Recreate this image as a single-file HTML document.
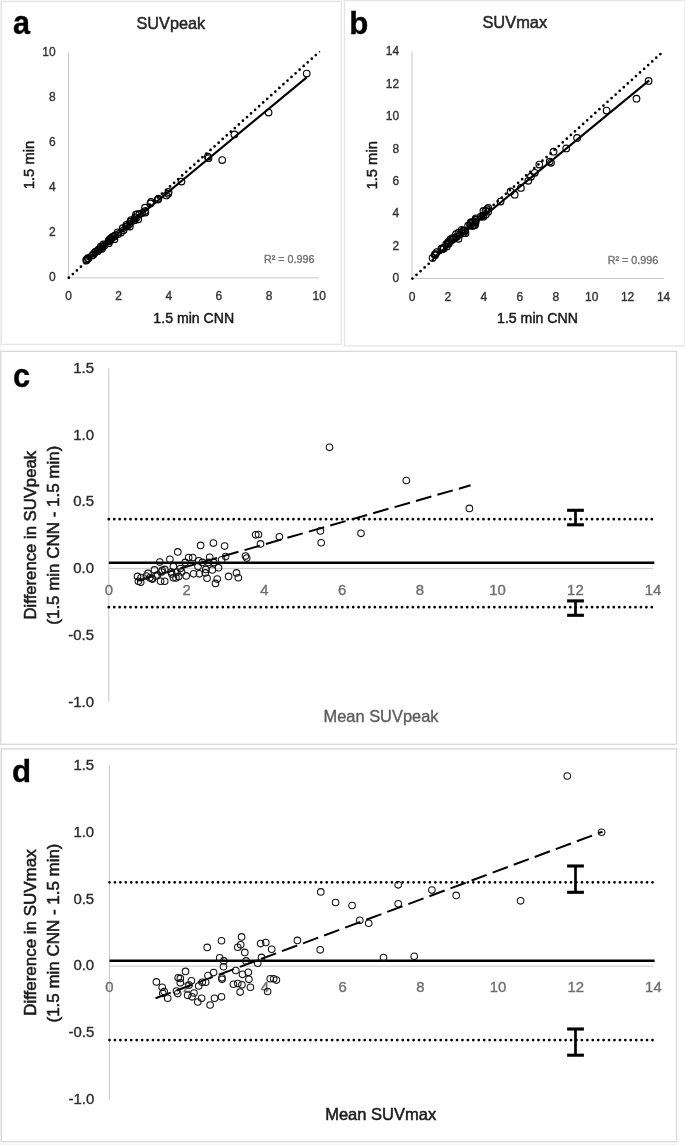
<!DOCTYPE html>
<html><head><meta charset="utf-8"><title>Figure</title>
<style>
html,body{margin:0;padding:0;background:#fff;}
body{width:685px;height:1145px;overflow:hidden;font-family:"Liberation Sans",sans-serif;}
svg{display:block;will-change:transform;}
svg text{font-family:"Liberation Sans",sans-serif;}
</style></head>
<body>
<svg width="685" height="1145" viewBox="0 0 685 1145">
<defs><filter id="soft" x="0" y="0" width="100%" height="100%" filterUnits="userSpaceOnUse" color-interpolation-filters="sRGB"><feGaussianBlur stdDeviation="0.4"/></filter></defs>
<rect width="685" height="1145" fill="#fff"/>
<g filter="url(#soft)">
<rect width="685" height="1145" fill="#fff"/>
<rect x="0" y="0" width="1.2" height="1145" fill="#f3f3f3"/><rect x="0" y="0" width="343" height="1.2" fill="#f6f6f6"/><rect x="0" y="1143.8" width="677" height="1.2" fill="#f3f3f3"/>
<rect x="1.4" y="1.6" width="339.9" height="342.8" fill="#fff" stroke="#e6e6e6" stroke-width="1.3"/>
<rect x="344.5" y="0.5" width="340.6" height="345.4" fill="#fff" stroke="#e6e6e6" stroke-width="1.4"/>
<rect x="0.8" y="351.3" width="675.8" height="393.0" fill="#fff" stroke="#d9d9d9" stroke-width="1.3"/>
<rect x="1.4" y="748.9" width="675.1" height="392.8" fill="#fff" stroke="#dcdcdc" stroke-width="1.5"/>
<line x1="68.5" y1="52.4" x2="68.5" y2="277.9" stroke="#c8c8c8" stroke-width="1"/>
<line x1="68.5" y1="277.9" x2="319.2" y2="277.9" stroke="#c8c8c8" stroke-width="1"/>
<text x="55.6" y="281.4" font-size="12" text-anchor="end" fill="#333" font-weight="normal" stroke="#333" stroke-width="0.35">0</text>
<text x="68.5" y="300.2" font-size="12" text-anchor="middle" fill="#333" font-weight="normal" stroke="#333" stroke-width="0.35">0</text>
<text x="55.6" y="236.2" font-size="12" text-anchor="end" fill="#333" font-weight="normal" stroke="#333" stroke-width="0.35">2</text>
<text x="118.6" y="300.2" font-size="12" text-anchor="middle" fill="#333" font-weight="normal" stroke="#333" stroke-width="0.35">2</text>
<text x="55.6" y="191.1" font-size="12" text-anchor="end" fill="#333" font-weight="normal" stroke="#333" stroke-width="0.35">4</text>
<text x="168.8" y="300.2" font-size="12" text-anchor="middle" fill="#333" font-weight="normal" stroke="#333" stroke-width="0.35">4</text>
<text x="55.6" y="145.9" font-size="12" text-anchor="end" fill="#333" font-weight="normal" stroke="#333" stroke-width="0.35">6</text>
<text x="218.9" y="300.2" font-size="12" text-anchor="middle" fill="#333" font-weight="normal" stroke="#333" stroke-width="0.35">6</text>
<text x="55.6" y="100.8" font-size="12" text-anchor="end" fill="#333" font-weight="normal" stroke="#333" stroke-width="0.35">8</text>
<text x="269.1" y="300.2" font-size="12" text-anchor="middle" fill="#333" font-weight="normal" stroke="#333" stroke-width="0.35">8</text>
<text x="55.6" y="55.6" font-size="12" text-anchor="end" fill="#333" font-weight="normal" stroke="#333" stroke-width="0.35">10</text>
<text x="319.2" y="300.2" font-size="12" text-anchor="middle" fill="#333" font-weight="normal" stroke="#333" stroke-width="0.35">10</text>
<line x1="68.8" y1="277.7" x2="319.3" y2="51.9" stroke="#000" stroke-width="2.75" stroke-dasharray="0 5.452" stroke-linecap="round"/>
<circle cx="319.5" cy="51.7" r="0.8" fill="#000"/>
<line x1="86.6" y1="259.6" x2="306.7" y2="77.4" stroke="#000" stroke-width="2.1"/>
<g fill="none" stroke="#000" stroke-width="1.15">
<circle cx="129.9" cy="226.5" r="3.3"/>
<circle cx="138.3" cy="219.3" r="3.3"/>
<circle cx="145.3" cy="212.5" r="3.3"/>
<circle cx="114.5" cy="239.2" r="3.3"/>
<circle cx="108.8" cy="243.2" r="3.3"/>
<circle cx="102.0" cy="248.8" r="3.3"/>
<circle cx="121.0" cy="232.4" r="3.3"/>
<circle cx="123.6" cy="230.1" r="3.3"/>
<circle cx="134.6" cy="220.2" r="3.3"/>
<circle cx="144.9" cy="211.1" r="3.3"/>
<circle cx="142.0" cy="213.1" r="3.3"/>
<circle cx="118.3" cy="234.0" r="3.3"/>
<circle cx="127.3" cy="226.3" r="3.3"/>
<circle cx="129.4" cy="224.1" r="3.3"/>
<circle cx="133.4" cy="220.5" r="3.3"/>
<circle cx="136.7" cy="217.5" r="3.3"/>
<circle cx="110.3" cy="240.6" r="3.3"/>
<circle cx="114.7" cy="236.3" r="3.3"/>
<circle cx="126.2" cy="226.3" r="3.3"/>
<circle cx="131.0" cy="221.5" r="3.3"/>
<circle cx="135.1" cy="217.7" r="3.3"/>
<circle cx="139.3" cy="214.2" r="3.3"/>
<circle cx="104.5" cy="245.4" r="3.3"/>
<circle cx="97.8" cy="251.2" r="3.3"/>
<circle cx="102.1" cy="247.0" r="3.3"/>
<circle cx="108.4" cy="241.4" r="3.3"/>
<circle cx="112.1" cy="238.0" r="3.3"/>
<circle cx="93.3" cy="254.7" r="3.3"/>
<circle cx="98.2" cy="249.9" r="3.3"/>
<circle cx="86.3" cy="260.6" r="3.3"/>
<circle cx="88.4" cy="258.4" r="3.3"/>
<circle cx="94.1" cy="253.3" r="3.3"/>
<circle cx="95.6" cy="251.7" r="3.3"/>
<circle cx="86.4" cy="259.6" r="3.3"/>
<circle cx="87.8" cy="258.2" r="3.3"/>
<circle cx="100.7" cy="246.7" r="3.3"/>
<circle cx="103.3" cy="244.4" r="3.3"/>
<circle cx="109.3" cy="239.6" r="3.3"/>
<circle cx="112.8" cy="236.6" r="3.3"/>
<circle cx="117.7" cy="232.3" r="3.3"/>
<circle cx="122.7" cy="228.2" r="3.3"/>
<circle cx="126.4" cy="224.8" r="3.3"/>
<circle cx="130.3" cy="221.5" r="3.3"/>
<circle cx="131.0" cy="220.0" r="3.3"/>
<circle cx="137.4" cy="214.0" r="3.3"/>
<circle cx="135.9" cy="214.7" r="3.3"/>
<circle cx="145.0" cy="207.6" r="3.3"/>
<circle cx="150.4" cy="203.4" r="3.3"/>
<circle cx="151.1" cy="201.9" r="3.3"/>
<circle cx="222.2" cy="160.0" r="3.3"/>
<circle cx="268.6" cy="112.6" r="3.3"/>
<circle cx="306.7" cy="73.6" r="3.3"/>
<circle cx="234.4" cy="134.4" r="3.3"/>
<circle cx="208.5" cy="158.2" r="3.3"/>
<circle cx="207.9" cy="156.7" r="3.3"/>
<circle cx="181.5" cy="181.5" r="3.3"/>
<circle cx="166.4" cy="195.4" r="3.3"/>
<circle cx="168.2" cy="193.8" r="3.3"/>
<circle cx="168.6" cy="191.9" r="3.3"/>
<circle cx="157.8" cy="199.6" r="3.3"/>
<circle cx="158.4" cy="198.7" r="3.3"/>
<circle cx="102.8" cy="246.7" r="3.3"/>
<circle cx="99.4" cy="249.0" r="3.3"/>
<circle cx="95.4" cy="252.0" r="3.3"/>
<circle cx="115.1" cy="235.3" r="3.3"/>
<circle cx="108.7" cy="240.8" r="3.3"/>
<circle cx="110.9" cy="238.1" r="3.3"/>
<circle cx="92.0" cy="255.5" r="3.3"/>
</g>
<text x="170.8" y="29.3" font-size="17" text-anchor="middle" fill="#262626" font-weight="normal" stroke="#262626" stroke-width="0.5" textLength="68.6" lengthAdjust="spacingAndGlyphs">SUVpeak</text>
<text x="193.8" y="323.0" font-size="15.3" text-anchor="middle" fill="#1a1a1a" font-weight="normal" stroke="#1a1a1a" stroke-width="0.5" textLength="80.9" lengthAdjust="spacingAndGlyphs">1.5 min CNN</text>
<text x="33.6" y="165.0" font-size="15.3" text-anchor="middle" fill="#1a1a1a" font-weight="normal" stroke="#1a1a1a" stroke-width="0.5" textLength="48.4" lengthAdjust="spacingAndGlyphs" transform="rotate(-90 33.6 165.0)">1.5 min</text>
<text x="289.2" y="262.8" font-size="11.5" text-anchor="middle" fill="#747474" font-weight="normal" stroke="#747474" stroke-width="0.4" textLength="50.6" lengthAdjust="spacingAndGlyphs">R² = 0.996</text>
<text x="12.9" y="33.7" font-size="33.4" text-anchor="start" fill="#000" font-weight="bold" stroke="#000" stroke-width="0.35" textLength="17.0" lengthAdjust="spacingAndGlyphs">a</text>
<line x1="412.0" y1="51.4" x2="412.0" y2="278.5" stroke="#c8c8c8" stroke-width="1"/>
<line x1="412.0" y1="278.5" x2="663.6" y2="278.5" stroke="#c8c8c8" stroke-width="1"/>
<text x="399.2" y="282.4" font-size="12" text-anchor="end" fill="#333" font-weight="normal" stroke="#333" stroke-width="0.35">0</text>
<text x="412.0" y="300.6" font-size="12" text-anchor="middle" fill="#333" font-weight="normal" stroke="#333" stroke-width="0.35">0</text>
<text x="399.2" y="249.9" font-size="12" text-anchor="end" fill="#333" font-weight="normal" stroke="#333" stroke-width="0.35">2</text>
<text x="447.9" y="300.6" font-size="12" text-anchor="middle" fill="#333" font-weight="normal" stroke="#333" stroke-width="0.35">2</text>
<text x="399.2" y="217.4" font-size="12" text-anchor="end" fill="#333" font-weight="normal" stroke="#333" stroke-width="0.35">4</text>
<text x="483.9" y="300.6" font-size="12" text-anchor="middle" fill="#333" font-weight="normal" stroke="#333" stroke-width="0.35">4</text>
<text x="399.2" y="185.0" font-size="12" text-anchor="end" fill="#333" font-weight="normal" stroke="#333" stroke-width="0.35">6</text>
<text x="519.8" y="300.6" font-size="12" text-anchor="middle" fill="#333" font-weight="normal" stroke="#333" stroke-width="0.35">6</text>
<text x="399.2" y="152.5" font-size="12" text-anchor="end" fill="#333" font-weight="normal" stroke="#333" stroke-width="0.35">8</text>
<text x="555.8" y="300.6" font-size="12" text-anchor="middle" fill="#333" font-weight="normal" stroke="#333" stroke-width="0.35">8</text>
<text x="399.2" y="120.0" font-size="12" text-anchor="end" fill="#333" font-weight="normal" stroke="#333" stroke-width="0.35">10</text>
<text x="591.7" y="300.6" font-size="12" text-anchor="middle" fill="#333" font-weight="normal" stroke="#333" stroke-width="0.35">10</text>
<text x="399.2" y="87.5" font-size="12" text-anchor="end" fill="#333" font-weight="normal" stroke="#333" stroke-width="0.35">12</text>
<text x="627.6" y="300.6" font-size="12" text-anchor="middle" fill="#333" font-weight="normal" stroke="#333" stroke-width="0.35">12</text>
<text x="399.2" y="55.0" font-size="12" text-anchor="end" fill="#333" font-weight="normal" stroke="#333" stroke-width="0.35">14</text>
<text x="663.6" y="300.6" font-size="12" text-anchor="middle" fill="#333" font-weight="normal" stroke="#333" stroke-width="0.35">14</text>
<line x1="412.4" y1="278.5" x2="663.6" y2="51.1" stroke="#000" stroke-width="2.75" stroke-dasharray="0 5.483" stroke-linecap="round"/>
<line x1="433.6" y1="257.6" x2="649.2" y2="80.4" stroke="#000" stroke-width="2.1"/>
<g fill="none" stroke="#000" stroke-width="1.15">
<circle cx="475.1" cy="225.1" r="3.3"/>
<circle cx="465.5" cy="233.2" r="3.3"/>
<circle cx="500.6" cy="201.5" r="3.3"/>
<circle cx="483.4" cy="216.7" r="3.3"/>
<circle cx="485.9" cy="214.6" r="3.3"/>
<circle cx="474.1" cy="225.0" r="3.3"/>
<circle cx="472.6" cy="226.0" r="3.3"/>
<circle cx="458.5" cy="238.8" r="3.3"/>
<circle cx="488.2" cy="211.7" r="3.3"/>
<circle cx="475.5" cy="222.8" r="3.3"/>
<circle cx="482.9" cy="215.5" r="3.3"/>
<circle cx="463.5" cy="233.0" r="3.3"/>
<circle cx="465.2" cy="231.0" r="3.3"/>
<circle cx="475.5" cy="221.8" r="3.3"/>
<circle cx="480.8" cy="216.7" r="3.3"/>
<circle cx="464.7" cy="230.8" r="3.3"/>
<circle cx="446.8" cy="246.4" r="3.3"/>
<circle cx="470.1" cy="225.4" r="3.3"/>
<circle cx="459.7" cy="234.6" r="3.3"/>
<circle cx="475.8" cy="220.1" r="3.3"/>
<circle cx="473.0" cy="222.4" r="3.3"/>
<circle cx="456.9" cy="236.8" r="3.3"/>
<circle cx="443.0" cy="249.1" r="3.3"/>
<circle cx="443.9" cy="248.2" r="3.3"/>
<circle cx="463.3" cy="230.8" r="3.3"/>
<circle cx="463.2" cy="230.7" r="3.3"/>
<circle cx="448.9" cy="243.4" r="3.3"/>
<circle cx="475.6" cy="219.4" r="3.3"/>
<circle cx="485.5" cy="210.6" r="3.3"/>
<circle cx="487.1" cy="209.1" r="3.3"/>
<circle cx="488.3" cy="207.9" r="3.3"/>
<circle cx="432.6" cy="257.9" r="3.3"/>
<circle cx="443.6" cy="247.9" r="3.3"/>
<circle cx="453.8" cy="238.8" r="3.3"/>
<circle cx="455.4" cy="237.3" r="3.3"/>
<circle cx="468.1" cy="225.6" r="3.3"/>
<circle cx="470.2" cy="223.8" r="3.3"/>
<circle cx="472.0" cy="222.0" r="3.3"/>
<circle cx="447.5" cy="244.1" r="3.3"/>
<circle cx="451.9" cy="240.0" r="3.3"/>
<circle cx="435.0" cy="255.2" r="3.3"/>
<circle cx="475.8" cy="218.3" r="3.3"/>
<circle cx="441.3" cy="249.0" r="3.3"/>
<circle cx="435.6" cy="254.1" r="3.3"/>
<circle cx="434.8" cy="254.6" r="3.3"/>
<circle cx="441.7" cy="248.3" r="3.3"/>
<circle cx="449.3" cy="241.5" r="3.3"/>
<circle cx="470.7" cy="222.3" r="3.3"/>
<circle cx="483.4" cy="210.9" r="3.3"/>
<circle cx="446.2" cy="244.1" r="3.3"/>
<circle cx="448.1" cy="242.2" r="3.3"/>
<circle cx="436.8" cy="252.2" r="3.3"/>
<circle cx="452.4" cy="238.1" r="3.3"/>
<circle cx="458.4" cy="232.7" r="3.3"/>
<circle cx="461.7" cy="229.8" r="3.3"/>
<circle cx="450.4" cy="239.4" r="3.3"/>
<circle cx="455.9" cy="234.1" r="3.3"/>
<circle cx="636.5" cy="98.7" r="3.3"/>
<circle cx="648.6" cy="80.9" r="3.3"/>
<circle cx="606.6" cy="110.6" r="3.3"/>
<circle cx="577.1" cy="137.9" r="3.3"/>
<circle cx="566.2" cy="148.4" r="3.3"/>
<circle cx="551.0" cy="162.8" r="3.3"/>
<circle cx="549.7" cy="161.6" r="3.3"/>
<circle cx="528.3" cy="180.8" r="3.3"/>
<circle cx="520.9" cy="187.9" r="3.3"/>
<circle cx="514.7" cy="194.7" r="3.3"/>
<circle cx="530.9" cy="176.7" r="3.3"/>
<circle cx="534.8" cy="172.8" r="3.3"/>
<circle cx="510.6" cy="191.4" r="3.3"/>
<circle cx="539.3" cy="164.5" r="3.3"/>
<circle cx="553.6" cy="151.7" r="3.3"/>
</g>
<text x="514.8" y="28.4" font-size="17" text-anchor="middle" fill="#262626" font-weight="normal" stroke="#262626" stroke-width="0.5" textLength="64.8" lengthAdjust="spacingAndGlyphs">SUVmax</text>
<text x="537.5" y="323.3" font-size="15.3" text-anchor="middle" fill="#1a1a1a" font-weight="normal" stroke="#1a1a1a" stroke-width="0.5" textLength="80.9" lengthAdjust="spacingAndGlyphs">1.5 min CNN</text>
<text x="377.2" y="165.3" font-size="15.3" text-anchor="middle" fill="#1a1a1a" font-weight="normal" stroke="#1a1a1a" stroke-width="0.5" textLength="48.4" lengthAdjust="spacingAndGlyphs" transform="rotate(-90 377.2 165.3)">1.5 min</text>
<text x="633.0" y="264.2" font-size="11.5" text-anchor="middle" fill="#747474" font-weight="normal" stroke="#747474" stroke-width="0.4" textLength="50.6" lengthAdjust="spacingAndGlyphs">R² = 0.996</text>
<text x="349.2" y="33.6" font-size="30.5" text-anchor="start" fill="#000" font-weight="bold" stroke="#000" stroke-width="0.35" textLength="19.1" lengthAdjust="spacingAndGlyphs">b</text>
<line x1="108.8" y1="368.2" x2="108.8" y2="701.8" stroke="#c8c8c8" stroke-width="1"/>
<line x1="108.8" y1="568.4" x2="653.1" y2="568.4" stroke="#c8c8c8" stroke-width="1"/>
<text x="94.0" y="372.8" font-size="14.5" text-anchor="end" fill="#2b2b2b" font-weight="normal" stroke="#2b2b2b" stroke-width="0.35" textLength="20.8" lengthAdjust="spacingAndGlyphs">1.5</text>
<text x="94.0" y="439.5" font-size="14.5" text-anchor="end" fill="#2b2b2b" font-weight="normal" stroke="#2b2b2b" stroke-width="0.35" textLength="20.8" lengthAdjust="spacingAndGlyphs">1.0</text>
<text x="94.0" y="505.9" font-size="14.5" text-anchor="end" fill="#2b2b2b" font-weight="normal" stroke="#2b2b2b" stroke-width="0.35" textLength="20.8" lengthAdjust="spacingAndGlyphs">0.5</text>
<text x="94.0" y="573.0" font-size="14.5" text-anchor="end" fill="#2b2b2b" font-weight="normal" stroke="#2b2b2b" stroke-width="0.35" textLength="20.8" lengthAdjust="spacingAndGlyphs">0.0</text>
<text x="94.0" y="640.2" font-size="14.5" text-anchor="end" fill="#2b2b2b" font-weight="normal" stroke="#2b2b2b" stroke-width="0.35" textLength="25.7" lengthAdjust="spacingAndGlyphs">-0.5</text>
<text x="94.0" y="707.3" font-size="14.5" text-anchor="end" fill="#2b2b2b" font-weight="normal" stroke="#2b2b2b" stroke-width="0.35" textLength="25.7" lengthAdjust="spacingAndGlyphs">-1.0</text>
<text x="108.8" y="594.9" font-size="14.5" text-anchor="middle" fill="#6e6e6e" font-weight="normal" stroke="#6e6e6e" stroke-width="0.35" textLength="8.3" lengthAdjust="spacingAndGlyphs">0</text>
<text x="186.6" y="594.9" font-size="14.5" text-anchor="middle" fill="#6e6e6e" font-weight="normal" stroke="#6e6e6e" stroke-width="0.35" textLength="8.3" lengthAdjust="spacingAndGlyphs">2</text>
<text x="264.3" y="594.9" font-size="14.5" text-anchor="middle" fill="#6e6e6e" font-weight="normal" stroke="#6e6e6e" stroke-width="0.35" textLength="8.3" lengthAdjust="spacingAndGlyphs">4</text>
<text x="342.1" y="594.9" font-size="14.5" text-anchor="middle" fill="#6e6e6e" font-weight="normal" stroke="#6e6e6e" stroke-width="0.35" textLength="8.3" lengthAdjust="spacingAndGlyphs">6</text>
<text x="419.8" y="594.9" font-size="14.5" text-anchor="middle" fill="#6e6e6e" font-weight="normal" stroke="#6e6e6e" stroke-width="0.35" textLength="8.3" lengthAdjust="spacingAndGlyphs">8</text>
<text x="497.6" y="594.9" font-size="14.5" text-anchor="middle" fill="#6e6e6e" font-weight="normal" stroke="#6e6e6e" stroke-width="0.35" textLength="16.6" lengthAdjust="spacingAndGlyphs">10</text>
<text x="575.4" y="594.9" font-size="14.5" text-anchor="middle" fill="#6e6e6e" font-weight="normal" stroke="#6e6e6e" stroke-width="0.35" textLength="16.6" lengthAdjust="spacingAndGlyphs">12</text>
<text x="653.1" y="594.9" font-size="14.5" text-anchor="middle" fill="#6e6e6e" font-weight="normal" stroke="#6e6e6e" stroke-width="0.35" textLength="16.6" lengthAdjust="spacingAndGlyphs">14</text>
<line x1="108.8" y1="519.2" x2="653.1" y2="519.2" stroke="#000" stroke-width="2.75" stroke-dasharray="0 5.43" stroke-linecap="round"/>
<line x1="108.8" y1="607.2" x2="653.1" y2="607.2" stroke="#000" stroke-width="2.75" stroke-dasharray="0 5.43" stroke-linecap="round"/>
<line x1="108.8" y1="562.8" x2="654.3" y2="562.8" stroke="#000" stroke-width="2.5"/>
<line x1="137.3" y1="580.8" x2="470.6" y2="485.3" stroke="#000" stroke-width="2.0" stroke-dasharray="16 6.3"/>
<g fill="none" stroke="#111" stroke-width="1.05">
<circle cx="200.6" cy="545.4" r="3.3"/>
<circle cx="213.4" cy="543.1" r="3.3"/>
<circle cx="224.6" cy="546.1" r="3.3"/>
<circle cx="177.8" cy="551.9" r="3.3"/>
<circle cx="169.9" cy="559.3" r="3.3"/>
<circle cx="159.8" cy="562.1" r="3.3"/>
<circle cx="188.7" cy="557.5" r="3.3"/>
<circle cx="192.7" cy="557.5" r="3.3"/>
<circle cx="209.7" cy="557.2" r="3.3"/>
<circle cx="225.6" cy="556.6" r="3.3"/>
<circle cx="221.6" cy="559.8" r="3.3"/>
<circle cx="185.2" cy="562.4" r="3.3"/>
<circle cx="198.8" cy="560.7" r="3.3"/>
<circle cx="202.3" cy="562.4" r="3.3"/>
<circle cx="208.5" cy="562.4" r="3.3"/>
<circle cx="213.7" cy="562.4" r="3.3"/>
<circle cx="173.4" cy="566.4" r="3.3"/>
<circle cx="180.4" cy="568.5" r="3.3"/>
<circle cx="198.0" cy="566.4" r="3.3"/>
<circle cx="205.8" cy="569.4" r="3.3"/>
<circle cx="212.3" cy="569.9" r="3.3"/>
<circle cx="218.5" cy="567.7" r="3.3"/>
<circle cx="164.7" cy="569.4" r="3.3"/>
<circle cx="154.5" cy="569.9" r="3.3"/>
<circle cx="161.5" cy="572.0" r="3.3"/>
<circle cx="171.2" cy="572.0" r="3.3"/>
<circle cx="176.9" cy="572.0" r="3.3"/>
<circle cx="148.0" cy="573.4" r="3.3"/>
<circle cx="155.9" cy="575.9" r="3.3"/>
<circle cx="137.5" cy="576.4" r="3.3"/>
<circle cx="141.0" cy="577.7" r="3.3"/>
<circle cx="149.8" cy="577.7" r="3.3"/>
<circle cx="152.4" cy="579.1" r="3.3"/>
<circle cx="138.4" cy="581.2" r="3.3"/>
<circle cx="140.7" cy="582.2" r="3.3"/>
<circle cx="160.6" cy="581.2" r="3.3"/>
<circle cx="164.7" cy="581.2" r="3.3"/>
<circle cx="173.4" cy="577.7" r="3.3"/>
<circle cx="178.7" cy="576.4" r="3.3"/>
<circle cx="186.2" cy="575.9" r="3.3"/>
<circle cx="193.6" cy="573.8" r="3.3"/>
<circle cx="199.4" cy="573.8" r="3.3"/>
<circle cx="205.3" cy="572.9" r="3.3"/>
<circle cx="207.1" cy="578.2" r="3.3"/>
<circle cx="217.2" cy="579.1" r="3.3"/>
<circle cx="215.5" cy="583.4" r="3.3"/>
<circle cx="228.6" cy="576.4" r="3.3"/>
<circle cx="236.5" cy="572.9" r="3.3"/>
<circle cx="238.3" cy="577.7" r="3.3"/>
<circle cx="329.5" cy="447.3" r="3.3"/>
<circle cx="406.3" cy="480.5" r="3.3"/>
<circle cx="469.4" cy="508.4" r="3.3"/>
<circle cx="361.0" cy="533.3" r="3.3"/>
<circle cx="320.4" cy="530.9" r="3.3"/>
<circle cx="321.2" cy="542.7" r="3.3"/>
<circle cx="279.4" cy="536.8" r="3.3"/>
<circle cx="255.7" cy="534.8" r="3.3"/>
<circle cx="258.5" cy="534.5" r="3.3"/>
<circle cx="260.5" cy="543.9" r="3.3"/>
<circle cx="245.5" cy="556.1" r="3.3"/>
<circle cx="246.7" cy="558.1" r="3.3"/>
<circle cx="162.2" cy="570.3" r="3.3"/>
<circle cx="157.6" cy="574.9" r="3.3"/>
<circle cx="152.0" cy="578.5" r="3.3"/>
<circle cx="181.6" cy="571.9" r="3.3"/>
<circle cx="171.9" cy="573.9" r="3.3"/>
<circle cx="176.0" cy="578.0" r="3.3"/>
<circle cx="146.3" cy="576.0" r="3.3"/>
</g>
<line x1="575.5" y1="510.3" x2="575.5" y2="524.8" stroke="#000" stroke-width="2.7"/>
<line x1="567.1" y1="510.3" x2="583.9" y2="510.3" stroke="#000" stroke-width="3.1"/>
<line x1="567.1" y1="524.8" x2="583.9" y2="524.8" stroke="#000" stroke-width="3.1"/>
<line x1="575.5" y1="600.9" x2="575.5" y2="615.3" stroke="#000" stroke-width="2.7"/>
<line x1="567.1" y1="600.9" x2="583.9" y2="600.9" stroke="#000" stroke-width="3.1"/>
<line x1="567.1" y1="615.3" x2="583.9" y2="615.3" stroke="#000" stroke-width="3.1"/>
<text x="36.2" y="535.2" font-size="16.5" text-anchor="middle" fill="#1a1a1a" font-weight="normal" stroke="#1a1a1a" stroke-width="0.55" textLength="168.5" lengthAdjust="spacingAndGlyphs" transform="rotate(-90 36.2 535.2)">Difference in SUVpeak</text>
<text x="59.2" y="535.2" font-size="16.5" text-anchor="middle" fill="#1a1a1a" font-weight="normal" stroke="#1a1a1a" stroke-width="0.55" textLength="179.0" lengthAdjust="spacingAndGlyphs" transform="rotate(-90 59.2 535.2)">(1.5 min CNN - 1.5 min)</text>
<text x="381.0" y="722.0" font-size="16.5" text-anchor="middle" fill="#5c5c5c" font-weight="normal" stroke="#5c5c5c" stroke-width="0.35" textLength="115.0" lengthAdjust="spacingAndGlyphs">Mean SUVpeak</text>
<text x="12.9" y="387.0" font-size="33" text-anchor="start" fill="#000" font-weight="bold" stroke="#000" stroke-width="0.35" textLength="17.1" lengthAdjust="spacingAndGlyphs">c</text>
<line x1="109.5" y1="765.8" x2="109.5" y2="1099.8" stroke="#c8c8c8" stroke-width="1"/>
<line x1="109.5" y1="966.2" x2="653.4" y2="966.2" stroke="#c8c8c8" stroke-width="1"/>
<text x="94.2" y="770.0" font-size="14.5" text-anchor="end" fill="#2b2b2b" font-weight="normal" stroke="#2b2b2b" stroke-width="0.35" textLength="20.8" lengthAdjust="spacingAndGlyphs">1.5</text>
<text x="94.2" y="836.8" font-size="14.5" text-anchor="end" fill="#2b2b2b" font-weight="normal" stroke="#2b2b2b" stroke-width="0.35" textLength="20.8" lengthAdjust="spacingAndGlyphs">1.0</text>
<text x="94.2" y="903.6" font-size="14.5" text-anchor="end" fill="#2b2b2b" font-weight="normal" stroke="#2b2b2b" stroke-width="0.35" textLength="20.8" lengthAdjust="spacingAndGlyphs">0.5</text>
<text x="94.2" y="970.4" font-size="14.5" text-anchor="end" fill="#2b2b2b" font-weight="normal" stroke="#2b2b2b" stroke-width="0.35" textLength="20.8" lengthAdjust="spacingAndGlyphs">0.0</text>
<text x="94.2" y="1037.2" font-size="14.5" text-anchor="end" fill="#2b2b2b" font-weight="normal" stroke="#2b2b2b" stroke-width="0.35" textLength="25.7" lengthAdjust="spacingAndGlyphs">-0.5</text>
<text x="94.2" y="1104.0" font-size="14.5" text-anchor="end" fill="#2b2b2b" font-weight="normal" stroke="#2b2b2b" stroke-width="0.35" textLength="25.7" lengthAdjust="spacingAndGlyphs">-1.0</text>
<text x="109.5" y="991.9" font-size="14.5" text-anchor="middle" fill="#6e6e6e" font-weight="normal" stroke="#6e6e6e" stroke-width="0.35" textLength="8.3" lengthAdjust="spacingAndGlyphs">0</text>
<text x="187.2" y="991.9" font-size="14.5" text-anchor="middle" fill="#6e6e6e" font-weight="normal" stroke="#6e6e6e" stroke-width="0.35" textLength="8.3" lengthAdjust="spacingAndGlyphs">2</text>
<text x="264.9" y="991.9" font-size="14.5" text-anchor="middle" fill="#6e6e6e" font-weight="normal" stroke="#6e6e6e" stroke-width="0.35" textLength="8.3" lengthAdjust="spacingAndGlyphs">4</text>
<text x="342.6" y="991.9" font-size="14.5" text-anchor="middle" fill="#6e6e6e" font-weight="normal" stroke="#6e6e6e" stroke-width="0.35" textLength="8.3" lengthAdjust="spacingAndGlyphs">6</text>
<text x="420.3" y="991.9" font-size="14.5" text-anchor="middle" fill="#6e6e6e" font-weight="normal" stroke="#6e6e6e" stroke-width="0.35" textLength="8.3" lengthAdjust="spacingAndGlyphs">8</text>
<text x="498.0" y="991.9" font-size="14.5" text-anchor="middle" fill="#6e6e6e" font-weight="normal" stroke="#6e6e6e" stroke-width="0.35" textLength="16.6" lengthAdjust="spacingAndGlyphs">10</text>
<text x="575.7" y="991.9" font-size="14.5" text-anchor="middle" fill="#6e6e6e" font-weight="normal" stroke="#6e6e6e" stroke-width="0.35" textLength="16.6" lengthAdjust="spacingAndGlyphs">12</text>
<text x="653.4" y="991.9" font-size="14.5" text-anchor="middle" fill="#6e6e6e" font-weight="normal" stroke="#6e6e6e" stroke-width="0.35" textLength="16.6" lengthAdjust="spacingAndGlyphs">14</text>
<line x1="109.5" y1="882.3" x2="653.4" y2="882.3" stroke="#000" stroke-width="2.75" stroke-dasharray="0 5.43" stroke-linecap="round"/>
<line x1="109.5" y1="1040.0" x2="653.4" y2="1040.0" stroke="#000" stroke-width="2.75" stroke-dasharray="0 5.43" stroke-linecap="round"/>
<line x1="109.5" y1="960.7" x2="654.6" y2="960.7" stroke="#000" stroke-width="2.5"/>
<line x1="155.6" y1="998.3" x2="602.5" y2="831.7" stroke="#000" stroke-width="2.0" stroke-dasharray="16.2 6.28"/>
<g fill="none" stroke="#111" stroke-width="1.05">
<circle cx="241.6" cy="936.9" r="3.3"/>
<circle cx="221.5" cy="940.7" r="3.3"/>
<circle cx="297.4" cy="940.4" r="3.3"/>
<circle cx="260.6" cy="943.6" r="3.3"/>
<circle cx="265.8" cy="942.5" r="3.3"/>
<circle cx="240.7" cy="944.8" r="3.3"/>
<circle cx="237.8" cy="947.2" r="3.3"/>
<circle cx="207.2" cy="947.4" r="3.3"/>
<circle cx="271.7" cy="949.2" r="3.3"/>
<circle cx="244.8" cy="952.4" r="3.3"/>
<circle cx="261.5" cy="957.4" r="3.3"/>
<circle cx="219.7" cy="957.7" r="3.3"/>
<circle cx="223.8" cy="960.9" r="3.3"/>
<circle cx="246.0" cy="960.9" r="3.3"/>
<circle cx="257.7" cy="963.2" r="3.3"/>
<circle cx="223.5" cy="966.7" r="3.3"/>
<circle cx="185.5" cy="971.4" r="3.3"/>
<circle cx="235.8" cy="970.5" r="3.3"/>
<circle cx="213.6" cy="972.6" r="3.3"/>
<circle cx="248.3" cy="972.3" r="3.3"/>
<circle cx="242.5" cy="974.3" r="3.3"/>
<circle cx="208.0" cy="975.5" r="3.3"/>
<circle cx="178.2" cy="977.8" r="3.3"/>
<circle cx="180.3" cy="978.4" r="3.3"/>
<circle cx="222.0" cy="977.8" r="3.3"/>
<circle cx="222.0" cy="979.3" r="3.3"/>
<circle cx="191.4" cy="980.7" r="3.3"/>
<circle cx="248.9" cy="979.3" r="3.3"/>
<circle cx="270.2" cy="978.7" r="3.3"/>
<circle cx="273.7" cy="978.7" r="3.3"/>
<circle cx="276.4" cy="980.1" r="3.3"/>
<circle cx="156.4" cy="981.9" r="3.3"/>
<circle cx="180.3" cy="982.8" r="3.3"/>
<circle cx="202.2" cy="982.2" r="3.3"/>
<circle cx="205.7" cy="982.2" r="3.3"/>
<circle cx="233.4" cy="984.2" r="3.3"/>
<circle cx="237.8" cy="983.6" r="3.3"/>
<circle cx="241.9" cy="984.8" r="3.3"/>
<circle cx="189.1" cy="985.1" r="3.3"/>
<circle cx="198.7" cy="986.0" r="3.3"/>
<circle cx="162.2" cy="987.2" r="3.3"/>
<circle cx="250.4" cy="987.2" r="3.3"/>
<circle cx="176.5" cy="991.0" r="3.3"/>
<circle cx="164.2" cy="991.5" r="3.3"/>
<circle cx="162.8" cy="993.3" r="3.3"/>
<circle cx="177.7" cy="993.6" r="3.3"/>
<circle cx="194.0" cy="993.0" r="3.3"/>
<circle cx="240.1" cy="992.1" r="3.3"/>
<circle cx="267.6" cy="991.5" r="3.3"/>
<circle cx="187.6" cy="995.3" r="3.3"/>
<circle cx="192.0" cy="996.8" r="3.3"/>
<circle cx="167.7" cy="998.2" r="3.3"/>
<circle cx="201.6" cy="998.2" r="3.3"/>
<circle cx="214.5" cy="998.2" r="3.3"/>
<circle cx="221.5" cy="996.8" r="3.3"/>
<circle cx="197.8" cy="1002.0" r="3.3"/>
<circle cx="210.1" cy="1005.0" r="3.3"/>
<circle cx="567.3" cy="776.0" r="3.3"/>
<circle cx="601.6" cy="832.2" r="3.3"/>
<circle cx="520.6" cy="900.8" r="3.3"/>
<circle cx="456.2" cy="895.4" r="3.3"/>
<circle cx="431.9" cy="890.1" r="3.3"/>
<circle cx="398.2" cy="884.8" r="3.3"/>
<circle cx="398.2" cy="903.7" r="3.3"/>
<circle cx="352.1" cy="905.5" r="3.3"/>
<circle cx="335.6" cy="902.5" r="3.3"/>
<circle cx="320.8" cy="891.9" r="3.3"/>
<circle cx="359.8" cy="920.3" r="3.3"/>
<circle cx="368.7" cy="923.2" r="3.3"/>
<circle cx="320.2" cy="949.8" r="3.3"/>
<circle cx="383.5" cy="957.5" r="3.3"/>
<circle cx="414.2" cy="956.3" r="3.3"/>
</g>
<line x1="575.5" y1="866.0" x2="575.5" y2="892.3" stroke="#000" stroke-width="2.7"/>
<line x1="567.1" y1="866.0" x2="583.9" y2="866.0" stroke="#000" stroke-width="3.1"/>
<line x1="567.1" y1="892.3" x2="583.9" y2="892.3" stroke="#000" stroke-width="3.1"/>
<line x1="575.5" y1="1029.0" x2="575.5" y2="1055.2" stroke="#000" stroke-width="2.7"/>
<line x1="567.1" y1="1029.0" x2="583.9" y2="1029.0" stroke="#000" stroke-width="3.1"/>
<line x1="567.1" y1="1055.2" x2="583.9" y2="1055.2" stroke="#000" stroke-width="3.1"/>
<text x="36.3" y="932.6" font-size="16.5" text-anchor="middle" fill="#1a1a1a" font-weight="normal" stroke="#1a1a1a" stroke-width="0.55" textLength="166.5" lengthAdjust="spacingAndGlyphs" transform="rotate(-90 36.3 932.6)">Difference in SUVmax</text>
<text x="59.3" y="933.0" font-size="16.5" text-anchor="middle" fill="#1a1a1a" font-weight="normal" stroke="#1a1a1a" stroke-width="0.55" textLength="179.0" lengthAdjust="spacingAndGlyphs" transform="rotate(-90 59.3 933.0)">(1.5 min CNN - 1.5 min)</text>
<text x="380.7" y="1120.0" font-size="16.5" text-anchor="middle" fill="#1a1a1a" font-weight="normal" stroke="#1a1a1a" stroke-width="0.5" textLength="111.0" lengthAdjust="spacingAndGlyphs">Mean SUVmax</text>
<text x="12.0" y="781.5" font-size="30.5" text-anchor="start" fill="#000" font-weight="bold" stroke="#000" stroke-width="0.35" textLength="19.1" lengthAdjust="spacingAndGlyphs">d</text>
</g>
</svg>
</body></html>
